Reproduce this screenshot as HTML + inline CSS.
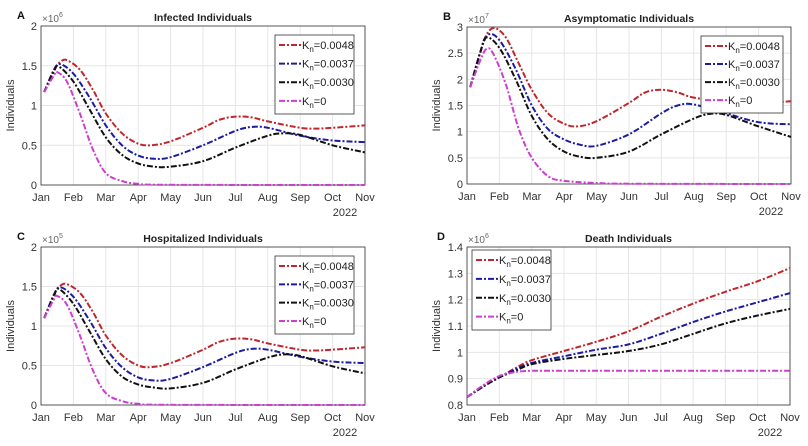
<!DOCTYPE html>
<html><head><meta charset="utf-8"><style>
body{margin:0;background:#fff;}
svg{display:block;font-family:"Liberation Sans",Arial,sans-serif;}
</style></head><body>
<svg id="chart" width="808" height="446" viewBox="0 0 808 446" xmlns="http://www.w3.org/2000/svg"></svg>
<script>
const months = ["Jan","Feb","Mar","Apr","May","Jun","Jul","Aug","Sep","Oct","Nov"];
const legendLabels = ["0.0048","0.0037","0.0030","0"];
const colors = ["#c0272d","#1c1ca0","#111111","#cc3fd0"];
// Panel A (x1e6)
const aT = [0.1,0.4,0.6,0.8,1.2,1.6,2,2.5,3,3.4,4,5,5.5,6,6.5,7,8,8.5,9,10];
const aRed = [1.17,1.45,1.55,1.57,1.45,1.2,0.9,0.65,0.52,0.5,0.55,0.72,0.82,0.86,0.85,0.8,0.72,0.71,0.72,0.75];
const aBT = [0.1,0.4,0.6,1,1.5,2,2.5,3,3.5,4,5,6,6.5,7,8,9,10];
const aBlue = [1.17,1.45,1.52,1.4,1.1,0.75,0.5,0.37,0.33,0.35,0.5,0.68,0.73,0.72,0.62,0.56,0.54];
const aKT = [0.1,0.4,0.55,1,1.5,2,2.5,3,3.5,4,5,6,7,7.5,8,9,10];
const aBlack = [1.17,1.43,1.49,1.3,0.95,0.6,0.38,0.27,0.23,0.23,0.3,0.47,0.62,0.65,0.63,0.5,0.41];
const aMT = [0.1,0.4,0.5,0.8,1.2,1.6,2,2.5,3,4,10];
const aMag = [1.17,1.38,1.42,1.3,0.9,0.45,0.15,0.05,0.015,0.003,0];
// Panel B (x1e7)
const bRT = [0.1,0.4,0.6,0.85,1.2,1.6,2,2.5,3,3.4,4,5,5.5,6,6.5,7,8,9,10];
const bRed = [1.85,2.5,2.85,2.98,2.8,2.3,1.8,1.35,1.15,1.1,1.2,1.55,1.75,1.8,1.75,1.65,1.57,1.55,1.58];
const bBT = [0.1,0.4,0.65,1,1.5,2,2.5,3,3.5,4,5,6,6.5,7,8,9,10];
const bBlue = [1.85,2.5,2.85,2.75,2.2,1.5,1.05,0.85,0.75,0.73,0.95,1.35,1.5,1.52,1.35,1.18,1.14];
const bKT = [0.1,0.4,0.6,1,1.5,2,2.5,3,3.5,4,5,6,7,7.5,8,9,10];
const bBlack = [1.85,2.5,2.8,2.6,2.0,1.3,0.85,0.62,0.52,0.5,0.62,0.95,1.25,1.34,1.32,1.1,0.9];
const bMT = [0.1,0.4,0.6,0.8,1.2,1.6,2,2.5,3,4,5,10];
const bMag = [1.85,2.35,2.58,2.5,1.9,1.05,0.5,0.15,0.06,0.02,0.005,0];
// Panel C (x1e5)
const cRT = [0.1,0.4,0.6,0.8,1.2,1.6,2,2.5,3,3.4,4,5,5.5,6,6.5,7,8,8.5,9,10];
const cRed = [1.1,1.4,1.51,1.53,1.42,1.18,0.88,0.63,0.5,0.48,0.53,0.7,0.8,0.84,0.83,0.78,0.7,0.69,0.7,0.73];
const cBT = [0.1,0.4,0.6,1,1.5,2,2.5,3,3.5,4,5,6,6.5,7,8,9,10];
const cBlue = [1.1,1.4,1.49,1.37,1.07,0.72,0.48,0.35,0.31,0.33,0.48,0.66,0.71,0.7,0.61,0.55,0.53];
const cKT = [0.1,0.4,0.55,1,1.5,2,2.5,3,3.5,4,5,6,7,7.5,8,9,10];
const cBlack = [1.1,1.38,1.47,1.28,0.93,0.58,0.36,0.26,0.22,0.21,0.28,0.45,0.6,0.64,0.62,0.49,0.40];
const cMT = [0.1,0.4,0.5,0.8,1.2,1.6,2,2.5,3,4,10];
const cMag = [1.1,1.34,1.38,1.27,0.88,0.44,0.15,0.05,0.015,0.003,0];
// Panel D (x1e6)
const dT = [0,0.5,1,1.5,2,3,4,5,6,7,8,9,10];
const dRed = [0.83,0.87,0.905,0.94,0.97,1.005,1.04,1.08,1.135,1.185,1.23,1.27,1.32];
const dBlue = [0.83,0.87,0.905,0.935,0.96,0.985,1.01,1.03,1.07,1.115,1.155,1.19,1.225];
const dBlack = [0.83,0.87,0.905,0.93,0.955,0.975,0.99,1.005,1.03,1.07,1.11,1.14,1.165];
const dMT = [0,0.5,1,1.5,2,3,10];
const dMag = [0.83,0.875,0.91,0.925,0.93,0.93,0.93];

const NS="http://www.w3.org/2000/svg";
const svg=document.getElementById('chart');
function mk(tag,attrs,parent){const e=document.createElementNS(NS,tag);for(const k in attrs)e.setAttribute(k,attrs[k]);(parent||svg).appendChild(e);return e;}
function catmull(pts){let d="M"+pts[0][0].toFixed(1)+","+pts[0][1].toFixed(1);
 for(let i=0;i<pts.length-1;i++){const p0=pts[i-1]||pts[i],p1=pts[i],p2=pts[i+1],p3=pts[i+2]||p2;
  const c1=[p1[0]+(p2[0]-p0[0])/6,p1[1]+(p2[1]-p0[1])/6],c2=[p2[0]-(p3[0]-p1[0])/6,p2[1]-(p3[1]-p1[1])/6];
  d+=" C"+c1.map(v=>v.toFixed(1))+" "+c2.map(v=>v.toFixed(1))+" "+p2[0].toFixed(1)+","+p2[1].toFixed(1);}
 return d;}

function panel(cfg){
 const g=mk('g',{});
 
 
 const {x0,x1,y0,y1,ymin,ymax,yticks}=cfg;
 const sx=t=>x0+(x1-x0)*t/10, sy=v=>y1-(y1-y0)*(v-ymin)/(ymax-ymin);
 months.forEach((m,i)=>{const x=sx(i);
  const gl=mk('line',{x1:x,x2:x,y1:y0,y2:y1,stroke:'#e6e6e6','stroke-width':1},g);
  
  const t=mk('text',{x:x,y:y1+16,'font-size':11,fill:'#333','text-anchor':'middle'},g);t.textContent=m;
  });
 yticks.forEach(v=>{const y=sy(v);
  const gl=mk('line',{x1:x0,x2:x1,y1:y,y2:y,stroke:'#e6e6e6','stroke-width':1},g);
  
  const t=mk('text',{x:x0-4,y:y+4,'font-size':11,fill:'#333','text-anchor':'end'},g);t.textContent=String(v);
  });
 const fr=mk('rect',{x:x0,y:y0,width:x1-x0,height:y1-y0,fill:'none',stroke:'#333','stroke-width':0.8},g);
 
 const yr=mk('text',{x:x1-20,y:y1+31,'font-size':11,fill:'#333','text-anchor':'middle'},g);yr.textContent='2022';
 
 const tt=mk('text',{x:(x0+x1)/2,y:y0-5,'font-size':10.5,'font-weight':'bold',fill:'#222','text-anchor':'middle'},g);tt.textContent=cfg.title;
 
 const lt=mk('text',{x:cfg.lx,y:y0-7,'font-size':11,'font-weight':'bold',fill:'#111'},g);lt.textContent=cfg.id;
 
 const ex=mk('text',{x:x0+1,y:y0-4,'font-size':10,fill:'#666'},g);ex.innerHTML='×10<tspan dy="-5" font-size="7">'+cfg.exp+'</tspan>';
 
 const yl=mk('text',{x:0,y:0,'font-size':11,fill:'#333','text-anchor':'middle',transform:`translate(${x0-27},${(y0+y1)/2}) rotate(-90)`},g);yl.textContent='Individuals';
 
 cfg.series.forEach((s,i)=>{const pts=s[0].map((t,j)=>[sx(t),sy(s[1][j])]);
  const p=mk('path',{d:catmull(pts),fill:'none',stroke:colors[i],'stroke-width':2,'stroke-dasharray':'6 2 2 2'},g);
  });
 const L=cfg.leg;
 const lg=mk('g',{},g);
 mk('rect',{x:L[0],y:L[1],width:L[2],height:L[3],fill:'#fff',stroke:'#333','stroke-width':0.8},lg);
 legendLabels.forEach((lab,i)=>{const y=L[1]+10+i*(L[3]-12)/3.6;
  const e=mk('g',{},lg);
  mk('line',{x1:L[0]+4,x2:L[0]+26,y1:y,y2:y,stroke:colors[i],'stroke-width':2,'stroke-dasharray':'6 2 2 2'},e);
  const t=mk('text',{x:L[0]+27,y:y+4,'font-size':11,fill:'#222'},e);t.innerHTML='K<tspan dy="3" font-size="8">n</tspan><tspan dy="-3">='+lab+'</tspan>';});
}
panel({id:'A',title:'Infected Individuals',exp:6,x0:41,x1:365,y0:26,y1:185,ymin:0,ymax:2,yticks:[0,0.5,1,1.5,2],lx:17,
 leg:[275,35,79,79],series:[[aT,aRed],[aBT,aBlue],[aKT,aBlack],[aMT,aMag]]});
panel({id:'B',title:'Asymptomatic Individuals',exp:7,x0:467,x1:791,y0:27,y1:184,ymin:0,ymax:3,yticks:[0,0.5,1,1.5,2,2.5,3],lx:443,
 leg:[701,36,82,77],series:[[bRT,bRed],[bBT,bBlue],[bKT,bBlack],[bMT,bMag]]});
panel({id:'C',title:'Hospitalized Individuals',exp:5,x0:41,x1:365,y0:247,y1:405,ymin:0,ymax:2,yticks:[0,0.5,1,1.5,2],lx:17,
 leg:[275,256,79,78],series:[[cRT,cRed],[cBT,cBlue],[cKT,cBlack],[cMT,cMag]]});
panel({id:'D',title:'Death Individuals',exp:6,x0:467,x1:790,y0:247,y1:405,ymin:0.8,ymax:1.4,yticks:[0.8,0.9,1,1.1,1.2,1.3,1.4],lx:437,
 leg:[472,250,79,80],series:[[dT,dRed],[dT,dBlue],[dT,dBlack],[dMT,dMag]]});
</script>
</body></html>
